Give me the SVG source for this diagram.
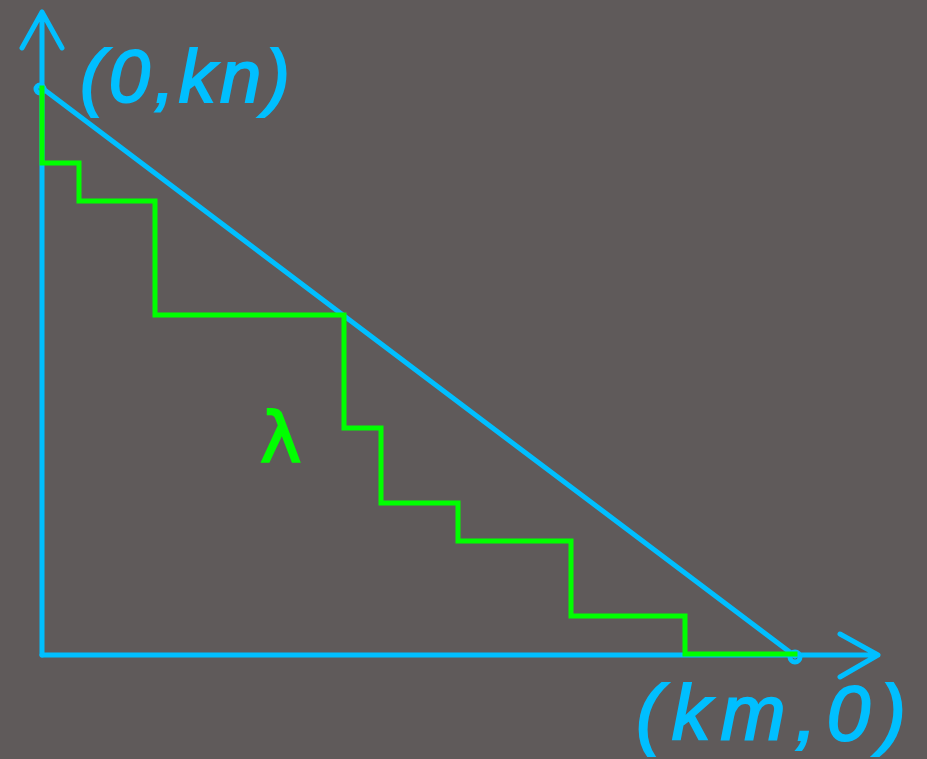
<svg xmlns="http://www.w3.org/2000/svg" width="927" height="759" viewBox="0 0 927 759">
<style>
.ax{fill:none;stroke:#00bfff;stroke-width:5;stroke-linecap:round;stroke-linejoin:round}
.st{fill:none;stroke:#00ff00;stroke-width:5;stroke-linejoin:miter;stroke-linecap:square}
.lb{font-family:"Liberation Sans",sans-serif;fill:#00bfff;stroke:#00bfff;stroke-width:2;font-style:italic}
.lam{font-family:"DejaVu Sans",sans-serif;fill:#00ff00;stroke:#00ff00;stroke-width:2}
</style>
<rect width="927" height="759" fill="#5f5a5a"/>
<g id="connectors">
<path class="ax" d="M42,655 V12 M22,48 L42,12 L62,48"/>
<path class="ax" d="M42,655 H878 M840,634 L878,655 L840,677"/>
<path class="ax" d="M42,88 L795,656"/>
<circle cx="40" cy="89" r="4" class="ax" stroke-width="4"/>
<circle cx="795" cy="657" r="5" class="ax" stroke-width="4"/>
</g>
<g id="staircase">
<path class="st" d="M42,88 V163 H79 V201 H155 V315 H344 V428 H381 V503 H458 V541 H571 V616 H685 V654 H795"/>
</g>
<g id="label-top">
<text class="lb" x="80" y="102" font-size="74" textLength="210" lengthAdjust="spacing">(0,kn)</text>
</g>
<g id="label-bottom">
<text class="lb" x="636" y="740" font-size="78" textLength="270" lengthAdjust="spacing">(km,0)</text>
</g>
<g id="label-lambda">
<text class="lam" x="260" y="462" font-size="70">λ</text>
</g>
</svg>
